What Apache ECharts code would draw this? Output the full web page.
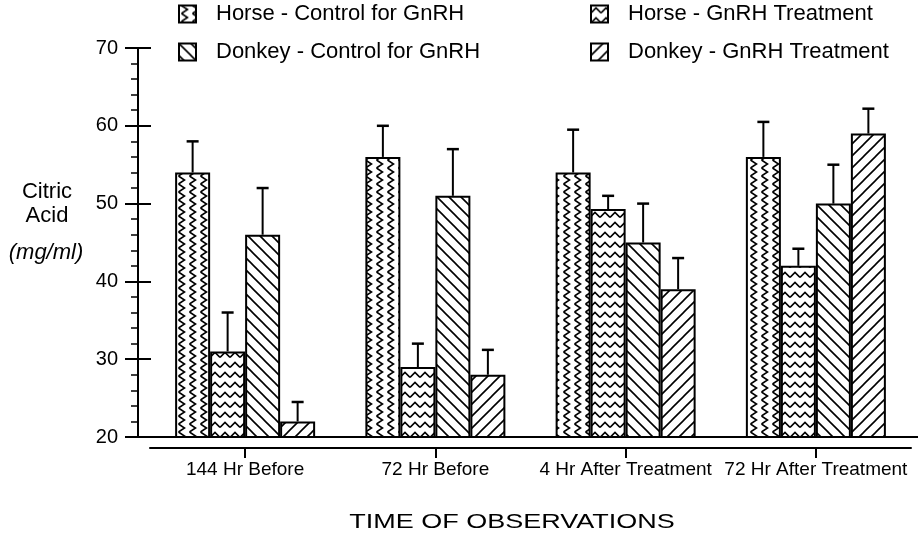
<!DOCTYPE html>
<html>
<head>
  <meta charset="utf-8">
  <title>Citric Acid</title>
  <script src="https://cdn.jsdelivr.net/npm/echarts@6/dist/echarts.min.js"></script>
  <style>
    html, body { margin: 0; padding: 0; background: #fff; }
    #main { width: 918px; height: 540px; }
  </style>
</head>
<body>
  <div id="main"></div>
  <script type="text/javascript">
    var categories = ['144 Hr Before', '72 Hr Before', '4 Hr After Treatment', '72 Hr After Treatment'];
    var seriesNames = ['Horse - Control for GnRH', 'Horse - GnRH Treatment', 'Donkey - Control for GnRH', 'Donkey - GnRH Treatment'];
    // means
    var horseControl = [54, 56, 54, 56];
    var horseTreat = [31, 29, 49.3, 42];
    var donkeyControl = [46, 51, 45, 50];
    var donkeyTreat = [22, 28, 39, 59];
    // top of the error bars
    var horseControlErr = [58, 60, 59.5, 60.5];
    var horseTreatErr = [36, 32, 51, 44.2];
    var donkeyControlErr = [52, 57, 50, 55];
    var donkeyTreatErr = [24.5, 31.2, 43, 62.2];
    var yTicks = [20, 30, 40, 50, 60, 70];

    var FONT = 'Liberation Sans, Arial, Helvetica, sans-serif';
    var BAR_W = 35;

    // hatch tiles
    function makeTile(w, h, draw) {
      var c = document.createElement('canvas');
      c.width = w; c.height = h;
      var ctx = c.getContext('2d');
      ctx.fillStyle = '#fff';
      ctx.fillRect(0, 0, w, h);
      ctx.strokeStyle = '#000';
      ctx.lineWidth = 1.6;
      draw(ctx, w, h);
      return { image: c, repeat: 'repeat' };
    }
    // vertical zigzag
    var patHC = makeTile(11, 8, function (ctx, w, h) {
      ctx.beginPath();
      ctx.moveTo(2.5, 0); ctx.lineTo(8.5, 4); ctx.lineTo(2.5, 8);
      ctx.stroke();
    });
    // horizontal wave
    var patHT = makeTile(10, 10, function (ctx, w, h) {
      ctx.beginPath();
      ctx.moveTo(0, 7.5); ctx.lineTo(5, 2.5); ctx.lineTo(10, 7.5);
      ctx.stroke();
    });
    // back diagonal
    var patDC = makeTile(12, 12, function (ctx, w, h) {
      ctx.beginPath();
      ctx.moveTo(-1, -1); ctx.lineTo(w + 1, h + 1);
      ctx.moveTo(w - 1, -1); ctx.lineTo(w + 1, 1);
      ctx.moveTo(-1, h - 1); ctx.lineTo(1, h + 1);
      ctx.stroke();
    });
    // forward diagonal
    var patDT = makeTile(12, 12, function (ctx, w, h) {
      ctx.beginPath();
      ctx.moveTo(-1, h + 1); ctx.lineTo(w + 1, -1);
      ctx.moveTo(-1, 1); ctx.lineTo(1, -1);
      ctx.moveTo(w - 1, h + 1); ctx.lineTo(w + 1, h - 1);
      ctx.stroke();
    });
    var patterns = [patHC, patHT, patDC, patDT];
    var means = [horseControl, horseTreat, donkeyControl, donkeyTreat];
    var errs = [horseControlErr, horseTreatErr, donkeyControlErr, donkeyTreatErr];

    function errRender(idx) {
      return function (params, api) {
        var c = api.value(0);
        var p0 = api.coord([c, api.value(1)]);
        var p1 = api.coord([c, api.value(2)]);
        var cx = p0[0] + (idx - 1.5) * BAR_W;
        return {
          type: 'group',
          children: [
            { type: 'line', shape: { x1: cx, y1: p0[1], x2: cx, y2: p1[1] }, style: { stroke: '#000', lineWidth: 2 } },
            { type: 'line', shape: { x1: cx - 6, y1: p1[1], x2: cx + 6, y2: p1[1] }, style: { stroke: '#000', lineWidth: 2.5 } }
          ]
        };
      };
    }

    var series = [];
    for (var i = 0; i < 4; i++) {
      series.push({
        name: seriesNames[i],
        type: 'bar',
        xAxisIndex: 1,
        yAxisIndex: 2,
        barWidth: BAR_W,
        barGap: '0%',
        data: means[i],
        itemStyle: { color: patterns[i], borderColor: '#000', borderWidth: 2 },
        emphasis: { disabled: true }
      });
    }
    for (var j = 0; j < 4; j++) {
      var d = [];
      for (var k = 0; k < categories.length; k++) d.push([k, means[j][k], errs[j][k]]);
      series.push({
        type: 'custom',
        xAxisIndex: 1,
        yAxisIndex: 2,
        renderItem: errRender(j),
        data: d,
        z: 5,
        silent: true
      });
    }

    var legendText = { fontSize: 22, color: '#000', fontFamily: FONT, padding: [0, 0, 0, 15] };
    var chart = echarts.init(document.getElementById('main'), null, { renderer: 'canvas' });
    chart.setOption({
      backgroundColor: '#fff',
      animation: false,
      legend: [{
        data: [seriesNames[0], seriesNames[2]],
        orient: 'vertical',
        left: 178, top: 3, padding: 0,
        itemWidth: 17, itemHeight: 17, itemGap: 16,
        icon: 'rect',
        textStyle: legendText
      }, {
        data: [seriesNames[1], seriesNames[3]],
        orient: 'vertical',
        left: 590, top: 3, padding: 0,
        itemWidth: 17, itemHeight: 17, itemGap: 16,
        icon: 'rect',
        textStyle: legendText
      }],
      grid: [
        { left: 138, right: 0, top: 48, bottom: 103, containLabel: false, outerBoundsMode: 'none' },
        { left: 150, right: 7, top: 48, bottom: 103, containLabel: false, outerBoundsMode: 'none' }
      ],
      xAxis: [{
        gridIndex: 0, type: 'value', min: 0, max: 1,
        axisLine: { show: true, onZero: false, lineStyle: { color: '#000', width: 2 } },
        axisTick: { show: false }, axisLabel: { show: false }, splitLine: { show: false }
      }, {
        gridIndex: 1, type: 'category', data: categories, offset: 11,
        axisLine: { show: true, onZero: false, lineStyle: { color: '#000', width: 2 } },
        axisTick: { show: true, alignWithLabel: true, length: 10, lineStyle: { color: '#000', width: 2 } },
        axisLabel: { interval: 0, fontSize: 19, color: '#000', fontFamily: FONT, margin: 12 },
        splitLine: { show: false }
      }],
      yAxis: [{
        gridIndex: 0, type: 'value', position: 'left', min: yTicks[0], max: yTicks[yTicks.length - 1], interval: 10,
        axisLine: { show: true, lineStyle: { color: '#000', width: 2 } },
        axisTick: { show: true, length: 13, lineStyle: { color: '#000', width: 2 } },
        minorTick: { show: true, splitNumber: 5, length: 7, lineStyle: { color: '#000', width: 1.5 } },
        axisLabel: { fontSize: 20, color: '#000', fontFamily: FONT, margin: 20 },
        splitLine: { show: false }
      }, {
        gridIndex: 0, type: 'value', position: 'left', offset: 0, min: yTicks[0], max: yTicks[yTicks.length - 1], interval: 10,
        axisLine: { show: false },
        axisTick: { show: true, inside: true, length: 13, lineStyle: { color: '#000', width: 2 } },
        axisLabel: { show: false },
        splitLine: { show: false }
      }, {
        gridIndex: 1, type: 'value', min: yTicks[0], max: yTicks[yTicks.length - 1], show: false
      }],
      graphic: [{
        type: 'text', x: 47, y: 180,
        style: { text: 'Citric\nAcid', fontSize: 22, fontFamily: FONT, fill: '#000', align: 'center', lineHeight: 24 }
      }, {
        type: 'text', x: 46, y: 242,
        style: { text: '(mg/ml)', fontSize: 22, fontStyle: 'italic', fontFamily: FONT, fill: '#000', align: 'center' }
      }, {
        type: 'text', x: 512, y: 522, scaleX: 1.35,
        style: { text: 'TIME OF OBSERVATIONS', fontSize: 20, fontFamily: FONT, fill: '#000', align: 'center', verticalAlign: 'middle' }
      }],
      series: series
    });
  </script>
</body>
</html>
